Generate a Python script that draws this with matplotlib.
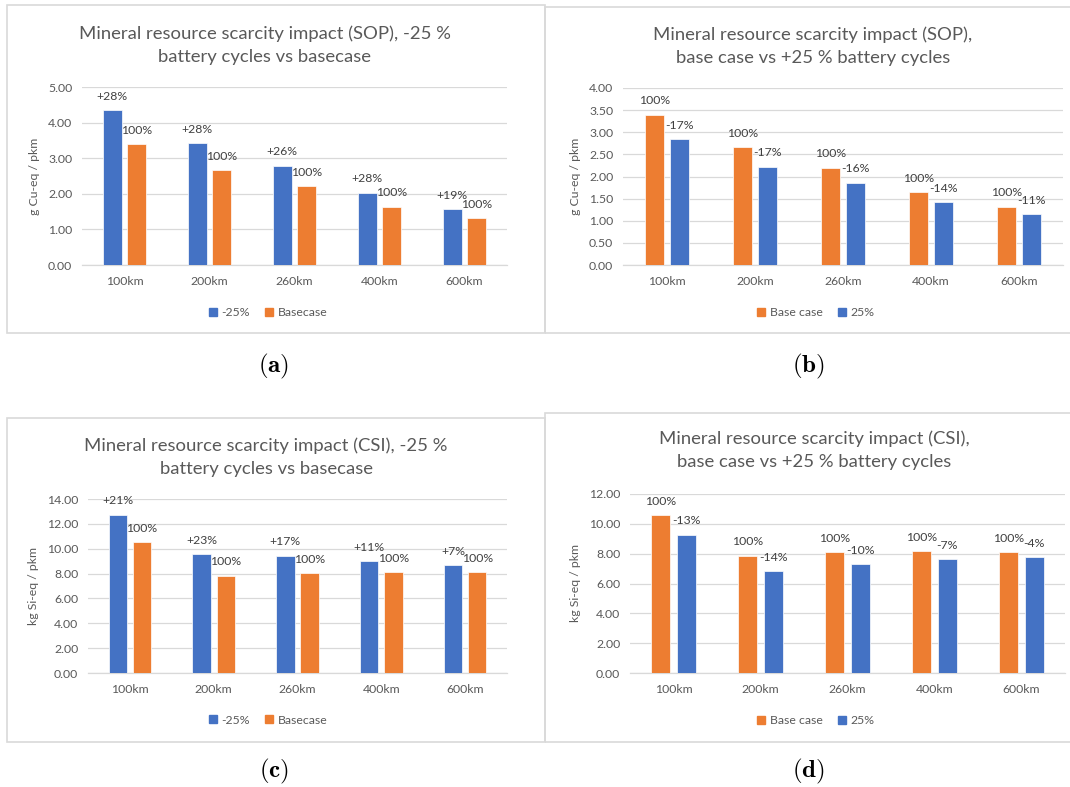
import numpy as np
import matplotlib
matplotlib.use("Agg")
import matplotlib.pyplot as plt
from matplotlib.patches import Rectangle, Patch

plt.rcParams['font.family'] = ['Lato', 'DejaVu Sans']
plt.rcParams['mathtext.fontset'] = 'cm'

# ---- data ----
categories = ["100km", "200km", "260km", "400km", "600km"]

sop_minus25 = [4.35, 3.42, 2.79, 2.03, 1.56]
sop_base = [3.40, 2.67, 2.21, 1.64, 1.31]
sop_minus25_labels = ["+28%", "+28%", "+26%", "+28%", "+19%"]

sop_base_b = [3.40, 2.66, 2.20, 1.65, 1.32]
sop_plus25 = [2.84, 2.22, 1.86, 1.42, 1.15]
sop_plus25_labels = ["-17%", "-17%", "-16%", "-14%", "-11%"]

csi_minus25 = [12.73, 9.54, 9.44, 8.98, 8.69]
csi_base = [10.54, 7.83, 8.04, 8.10, 8.10]
csi_minus25_labels = ["+21%", "+23%", "+17%", "+11%", "+7%"]

csi_base_d = [10.56, 7.86, 8.10, 8.15, 8.10]
csi_plus25 = [9.26, 6.81, 7.30, 7.61, 7.77]
csi_plus25_labels = ["-13%", "-14%", "-10%", "-7%", "-4%"]

base_labels = ["100%"] * 5

BLUE = "#4472C4"
ORANGE = "#ED7D31"
GREY = "#595959"
GRID = "#D9D9D9"
FS = 8.8

W, H = 1070, 787
fig = plt.figure(figsize=(W / 100, H / 100), dpi=100)


def fx(px):
    return px / W


def fy(py):
    return 1 - py / H


def panel(box, axbox, title, title_xy, ylabel, ymax, ystep,
          s1, s2, lab1, lab2, c1, c2, name1, name2, legend_xy, caption, cap_xy):
    # border
    x0, y0, x1, y1 = box
    fig.add_artist(Rectangle((fx(x0), fy(y1)), fx(x1 - x0), (y1 - y0) / H,
                             transform=fig.transFigure, fill=False,
                             ec=GRID, lw=1.2))
    l, t, r, b = axbox
    ax = fig.add_axes([fx(l), fy(b), fx(r - l), (b - t) / H])
    x = np.arange(len(categories))
    w = 0.22
    off = 0.145
    ax.bar(x - off, s1, w, color=c1, edgecolor="white", lw=0.5, zorder=3)
    ax.bar(x + off, s2, w, color=c2, edgecolor="white", lw=0.5, zorder=3)
    for xi, v, s in zip(x - off, s1, lab1):
        ax.annotate(s, (xi, v), xytext=(0, 10), textcoords="offset points",
                    ha="center", va="center", fontsize=FS, color="#404040")
    for xi, v, s in zip(x + off, s2, lab2):
        ax.annotate(s, (xi, v), xytext=(0, 10), textcoords="offset points",
                    ha="center", va="center", fontsize=FS, color="#404040")
    ax.set_xlim(-0.5, len(categories) - 0.5)
    ax.set_ylim(0, ymax)
    ax.set_yticks(np.arange(0, ymax + ystep / 2, ystep))
    ax.yaxis.set_major_formatter(matplotlib.ticker.FormatStrFormatter("%.2f"))
    ax.set_xticks(x)
    ax.set_xticklabels(categories)
    ax.tick_params(axis="both", length=0, labelsize=FS, labelcolor=GREY)
    ax.tick_params(axis="x", pad=8)
    ax.tick_params(axis="y", pad=7)
    ax.grid(axis="y", color=GRID, lw=0.9, zorder=0)
    for sp in ["top", "right", "left"]:
        ax.spines[sp].set_visible(False)
    ax.spines["bottom"].set_color(GRID)
    ax.spines["bottom"].set_linewidth(0.9)
    ax.set_ylabel(ylabel, fontsize=FS, color=GREY, labelpad=6)
    fig.text(fx(title_xy[0]), fy(title_xy[1]), title, ha="center", va="center",
             fontsize=13.3, color=GREY, linespacing=1.55)
    handles = [Patch(color=c1), Patch(color=c2)]
    fig.legend(handles, [name1, name2], loc="center",
               bbox_to_anchor=(fx(legend_xy[0]), fy(legend_xy[1])),
               ncol=2, frameon=False, fontsize=FS, labelcolor=GREY,
               handlelength=0.65, handleheight=0.65, handletextpad=0.4,
               columnspacing=1.2)
    fig.text(fx(cap_xy[0]), fy(cap_xy[1]), caption, ha="center", va="center",
             fontsize=18)
    return ax


panel((7, 5, 545, 333), (82, 87, 507, 265),
      "Mineral resource scarcity impact (SOP), -25 %\nbattery cycles vs basecase",
      (265, 45), "g Cu-eq / pkm", 5, 1,
      sop_minus25, sop_base, sop_minus25_labels, base_labels,
      BLUE, ORANGE, "-25%", "Basecase", (268, 313), r"$\mathbf{(a)}$", (274, 366))

panel((545, 7, 1075, 333), (623, 88, 1063, 265),
      "Mineral resource scarcity impact (SOP),\nbase case vs +25 % battery cycles",
      (813, 46), "g Cu-eq / pkm", 4, 0.5,
      sop_base_b, sop_plus25, base_labels, sop_plus25_labels,
      ORANGE, BLUE, "Base case", "25%", (816, 313), r"$\mathbf{(b)}$", (808, 366))

panel((7, 418, 545, 742), (88, 499, 507, 673),
      "Mineral resource scarcity impact (CSI), -25 %\nbattery cycles vs basecase",
      (266, 457), "kg Si-eq / pkm", 14, 2,
      csi_minus25, csi_base, csi_minus25_labels, base_labels,
      BLUE, ORANGE, "-25%", "Basecase", (268, 720), r"$\mathbf{(c)}$", (274, 771))

panel((545, 413, 1075, 742), (630, 494, 1065, 673),
      "Mineral resource scarcity impact (CSI),\nbase case vs +25 % battery cycles",
      (814, 450), "kg Si-eq / pkm", 12, 2,
      csi_base_d, csi_plus25, base_labels, csi_plus25_labels,
      ORANGE, BLUE, "Base case", "25%", (816, 721), r"$\mathbf{(d)}$", (808, 771))

fig.savefig("out.png", dpi=100)
